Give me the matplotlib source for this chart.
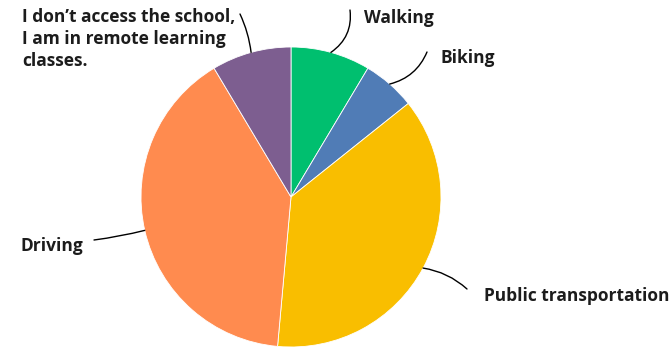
import numpy as np
import matplotlib.pyplot as plt

# responses per way of getting to school
labels = ["Walking", "Biking", "Public transportation", "Driving",
          "I don\u2019t access the school,\nI am in remote learning\nclasses."]
counts = [3, 2, 13, 14, 3]
colors = ["#00BF6F", "#507CB6", "#F9BE00", "#FF8B4F", "#7D5E90"]

# centre-left of each label block (pixel coords, origin bottom-left) and the end of its leader
label_xy = [(364, 332), (441, 292), (484, 54), (20, 104), (22, 311)]
elbow_xy = [(350, 340), (427, 298), (467, 61), (94, 110), (240, 336)]
line_rad = [-0.3, -0.25, 0.15, 0.03, -0.08]

plt.rcParams['font.family'] = ['Open Sans', 'DejaVu Sans']

fig = plt.figure(figsize=(6.7, 3.5), dpi=100)
ax = fig.add_axes([0, 0, 1, 1])

cx, cy, r = 291, 153, 150
wedges, _ = ax.pie(counts, colors=colors, startangle=90, counterclock=False,
                   center=(cx, cy), radius=r, frame=True,
                   wedgeprops=dict(edgecolor='white', linewidth=0.6))
ax.set_xlim(0, 670)
ax.set_ylim(0, 350)
ax.set_aspect('equal')
ax.axis('off')

for w, lab, (tx, ty), (ex, ey), rad in zip(wedges, labels, label_xy, elbow_xy, line_rad):
    mid = np.deg2rad((w.theta1 + w.theta2) / 2)
    px, py = cx + r * np.cos(mid), cy + r * np.sin(mid)
    ax.annotate("", xy=(px, py), xytext=(ex, ey),
                arrowprops=dict(arrowstyle='-', color='black', lw=1,
                                connectionstyle=f"arc3,rad={rad}",
                                shrinkA=0, shrinkB=0))
    ax.text(tx, ty, lab, ha='left', va='center',
            fontsize=12.5, fontweight='bold', color='#1c1c1c', linespacing=1.3)

fig.savefig("out.png", dpi=100)
